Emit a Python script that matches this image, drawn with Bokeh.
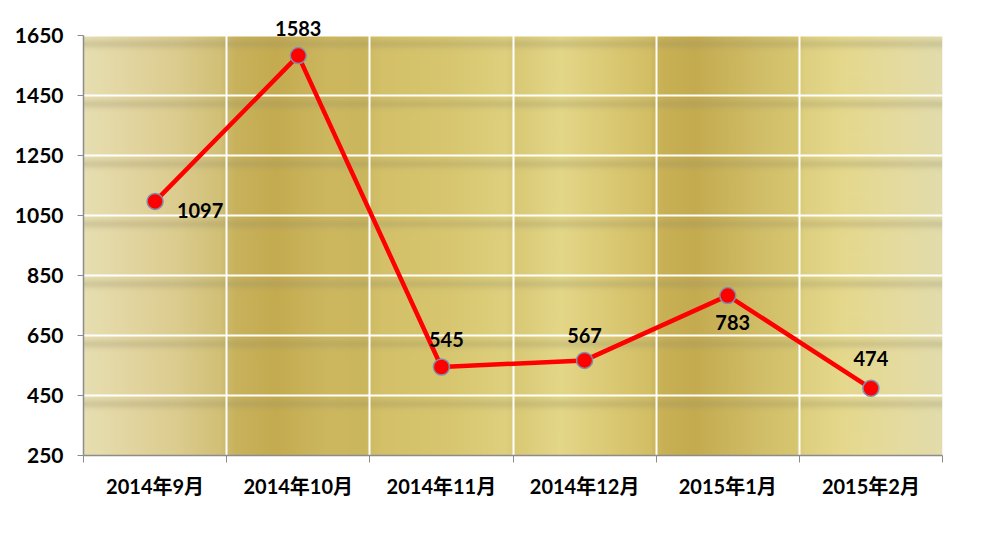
import numpy as np
from bokeh.plotting import figure
from bokeh.models import ColumnDataSource, FixedTicker, Range1d, LabelSet
from bokeh.core.properties import value
from bokeh.embed import file_html
from bokeh.resources import INLINE

# ---- data ----
categories = ["2014年9月", "2014年10月", "2014年11月", "2014年12月", "2015年1月", "2015年2月"]
values = [1097, 1583, 545, 567, 783, 474]
y_ticks = [250, 450, 650, 850, 1050, 1250, 1450, 1650]

# label placement (style): screen-pixel offsets of value labels (positive = up)
label_dx = [45, 0, 5, 0, 5, 0]
label_dy = [-9, 27, 28, 25, -27, 30]

FONT = "Lato, 'Noto Sans CJK SC', sans-serif"
HEADROOM = 90  # extra y-range above the top tick so the top label is not clipped

x_idx = list(range(len(categories)))
src = ColumnDataSource(dict(x=x_idx, y=values, txt=[str(v) for v in values],
                            dx=label_dx, dy=label_dy))

W, H = 970, 520
p = figure(width=W, height=H, output_backend="svg", toolbar_location=None,
           x_range=Range1d(-0.5, len(categories) - 0.5),
           y_range=Range1d(y_ticks[0], y_ticks[-1] + HEADROOM),
           min_border_left=83, min_border_right=28, min_border_top=8, min_border_bottom=65)
p.outline_line_color = None
p.background_fill_color = "#ffffff"

# ---- gold background image (styling) ----
FW, FH = 859, 420
xs_key = np.array([0, 47, 97, 137, 143, 152, 192, 247, 282, 287, 297, 367, 422, 432, 477, 527, 567, 573, 582, 612, 677, 712, 722, 757, 817, 859]) / FW
cols_key = np.array([
    (231, 223, 178), (226, 213, 160), (219, 203, 141), (209, 192, 118), (204, 186, 108),
    (200, 178, 92), (196, 171, 80), (205, 184, 96), (202, 182, 92), (206, 188, 100),
    (211, 192, 104), (216, 199, 112), (222, 208, 126), (217, 201, 118), (227, 215, 136),
    (219, 201, 116), (210, 190, 100), (203, 180, 90), (200, 176, 84), (196, 171, 80),
    (209, 190, 104), (215, 198, 112), (222, 208, 128), (229, 216, 140), (229, 219, 160),
    (226, 220, 172)])
fx = (np.arange(FW) + 0.5) / FW
row = np.stack([np.interp(fx, xs_key, cols_key[:, c]) for c in range(3)], axis=1)
img = np.repeat(row[None, :, :], FH, axis=0)  # top row first
# soft greyish shadow bands under each horizontal grid line
ry = np.arange(FH)
alpha = np.zeros(FH)
band = FH / (len(y_ticks) - 1)
for k in range(len(y_ticks) - 1):
    d = ry - k * band
    alpha += 0.26 * np.exp(-((d - 8) / 4.5) ** 2)
shadow = np.array([150, 142, 105], dtype=float)
img = img * (1 - alpha[:, None, None]) + shadow[None, None, :] * alpha[:, None, None]
img = np.clip(img, 0, 255).astype(np.uint32)
rgba = (255 << 24) | (img[:, :, 2] << 16) | (img[:, :, 1] << 8) | img[:, :, 0]
rgba = np.flipud(rgba).astype(np.uint32)
p.image_rgba(image=[rgba], x=-0.5, y=y_ticks[0], dw=len(categories), dh=y_ticks[-1] - y_ticks[0],
             level="image")

# ---- grids ----
p.ygrid.ticker = FixedTicker(ticks=y_ticks)
p.ygrid.grid_line_color = "#ffffff"
p.ygrid.grid_line_width = 2
p.xgrid.ticker = FixedTicker(ticks=[i + 0.5 for i in range(len(categories) - 1)])
p.xgrid.grid_line_color = "#ffffff"
p.xgrid.grid_line_width = 2
p.xgrid.bounds = (y_ticks[0], y_ticks[-1])
p.xgrid.level = "underlay"
p.ygrid.level = "underlay"

# ---- axes ----
p.yaxis.ticker = FixedTicker(ticks=y_ticks)
p.yaxis.bounds = (y_ticks[0], y_ticks[-1])
p.xaxis.ticker = FixedTicker(ticks=x_idx, minor_ticks=[i - 0.5 for i in range(len(categories) + 1)])
p.xaxis.major_label_overrides = {i: c for i, c in enumerate(categories)}
for ax in (p.xaxis[0], p.yaxis[0]):
    ax.axis_line_color = "#8c8c8c"
    ax.axis_line_width = 1.5
    ax.major_label_text_font = FONT
    ax.major_label_text_font_style = "bold"
    ax.major_label_text_color = "#000000"
p.yaxis.major_tick_line_color = "#8c8c8c"
p.yaxis.major_tick_out = 6
p.yaxis.major_tick_in = 0
p.yaxis.minor_tick_line_color = None
p.yaxis.major_label_text_font_size = "21px"
p.yaxis.major_label_standoff = 14
p.xaxis.major_tick_out = 0
p.xaxis.major_tick_in = 0
p.xaxis.major_tick_line_color = None
p.xaxis.minor_tick_line_color = "#8c8c8c"
p.xaxis.minor_tick_out = 7
p.xaxis.minor_tick_in = 0
p.xaxis.major_label_text_font_size = "20px"
p.xaxis.major_label_standoff = 11

# ---- series ----
p.line("x", "y", source=src, line_color="#ff0000", line_width=4.5)
p.scatter("x", "y", source=src, size=16, fill_color="#ff0000", line_color="#8090a8", line_width=1.5)
labels = LabelSet(x="x", y="y", text="txt", source=src, x_offset="dx", y_offset="dy",
                  text_font=value(FONT), text_font_style="bold", text_font_size="20px",
                  text_color="#000000", text_align="center", text_baseline="middle")
p.add_layout(labels)

open("out.html", "w").write(file_html(p, INLINE))
